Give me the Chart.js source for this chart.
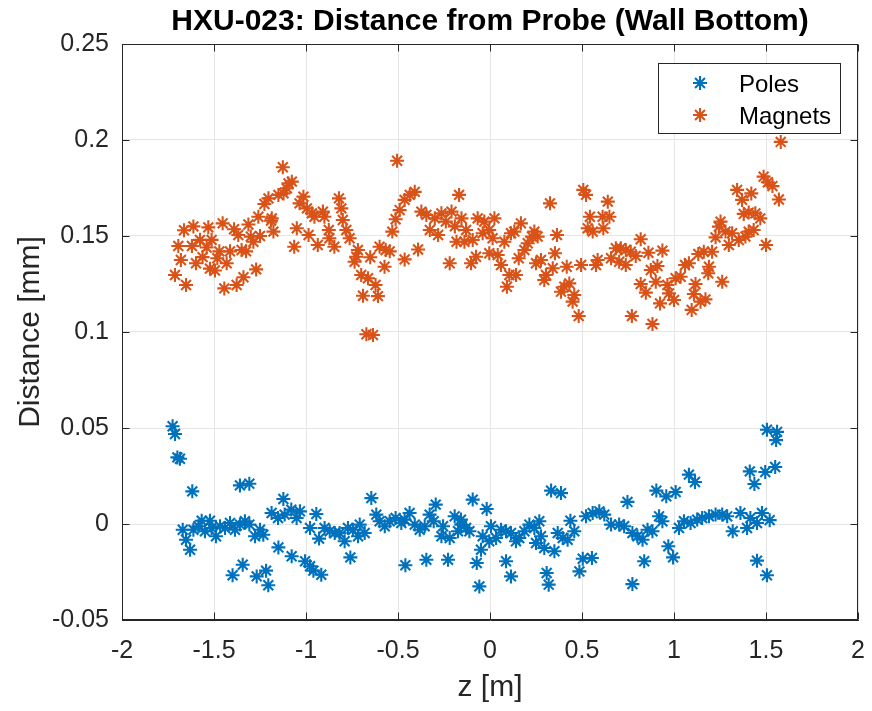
<!DOCTYPE html>
<html>
<head>
<meta charset="utf-8">
<script src="https://cdn.jsdelivr.net/npm/chart.js@4/dist/chart.umd.min.js"></script>
<style>
html,body{margin:0;padding:0;background:#fff;}
#wrap{width:872px;height:711px;}
</style>
</head>
<body>
<div id="wrap"><canvas id="c" width="872" height="711"></canvas></div>
<script>
const chartTitle = 'HXU-023: Distance from Probe (Wall Bottom)';
const xAxisTitle = 'z [m]';
const yAxisTitle = 'Distance [mm]';
const seriesNames = ['Poles', 'Magnets'];

const xTickValues = [-2, -1.5, -1, -0.5, 0, 0.5, 1, 1.5, 2];
const xTickLabels = ['-2', '-1.5', '-1', '-0.5', '0', '0.5', '1', '1.5', '2'];
const yTickValues = [-0.05, 0, 0.05, 0.1, 0.15, 0.2, 0.25];
const yTickLabels = ['-0.05', '0', '0.05', '0.1', '0.15', '0.2', '0.25'];

const poleZ = [
-1.725,-1.712,-1.699,-1.685,-1.618,-1.359,-1.308,-1.67,-1.652,-1.63,-1.612,-1.585,-1.567,-1.549,-1.522,-1.513,-1.489,-1.467,-1.44,-1.413,-1.386,-1.359,-1.332,-1.308,-1.277,-1.25,-1.232,-1.399,-1.344,-1.268,-1.217,-1.205,-1.123,-1.187,-1.152,-1.116,-1.08,-1.051,-1.033,-0.978,-1.15,-1.078,-1.005,-0.978,-0.96,
-0.944,-0.929,-0.917,-0.899,-0.871,-0.844,-0.817,-0.79,-0.772,-0.745,-0.717,-0.708,-0.681,-0.759,-0.645,-0.618,-0.6,-0.572,-0.545,-0.513,-0.482,-0.464,-0.437,-0.409,-0.382,-0.355,-0.328,-0.295,-0.306,-0.264,-0.255,-0.219,-0.192,-0.174,-0.156,-0.46,-0.346,-0.228,
-0.094,-0.018,-0.158,-0.13,-0.112,-0.04,0.005,-0.049,-0.072,-0.058,-0.004,0.033,0.06,0.087,0.114,0.141,0.159,0.187,0.214,0.241,0.268,0.25,0.277,0.295,0.35,0.332,0.386,0.087,0.114,0.308,0.319,0.368,0.395,0.422,0.437,0.458,0.486,0.504,0.554,0.522,0.558,0.594,0.621,0.658,
0.702,0.729,0.747,0.774,0.801,0.829,0.856,0.883,0.919,0.937,0.838,0.774,0.969,0.995,0.904,0.958,1.009,1.081,1.114,1.027,1.054,1.09,1.126,1.153,1.19,1.226,1.262,1.289,1.319,1.361,1.397,1.415,1.451,1.478,1.412,1.437,1.496,1.451,1.505,1.505,
1.56,1.555,1.55,1.52
];
const poleDist = [
0.0509,0.0469,0.0347,0.034,0.017,0.0201,0.021,-0.003,-0.0082,-0.0134,-0.003,-0.0012,0.0017,-0.0038,0.0017,-0.0021,-0.0064,-0.0012,-0.0021,0.0005,-0.003,-0.0003,0.0014,-0.0003,-0.0064,-0.003,-0.0056,-0.0267,-0.0212,-0.0273,-0.0243,-0.0319,0.013,0.0057,0.0031,0.0049,0.0075,0.0031,0.0066,-0.0021,-0.0122,-0.0168,-0.0194,-0.022,-0.0243,
0.0052,-0.0076,-0.0264,-0.0021,-0.0038,-0.0047,-0.0047,-0.009,-0.0021,-0.003,-0.0064,-0.0003,-0.0047,-0.0174,0.0135,0.0049,0.0014,-0.0012,0.0014,0.0031,0.0005,0.0023,0.0057,-0.0003,-0.003,-0.0012,0.0049,0.0101,0.0014,-0.0064,-0.0012,-0.0073,0.004,-0.0038,-0.0003,-0.0215,-0.0186,-0.0186,
0.0127,0.0078,0.0023,-0.0021,-0.0038,-0.0064,-0.0012,-0.0134,-0.0203,-0.0325,-0.009,-0.0073,-0.003,-0.0038,-0.0047,-0.009,-0.0073,-0.0038,-0.0003,-0.0021,0.0014,-0.0099,-0.0064,-0.0125,-0.0142,0.0174,0.0161,-0.0194,-0.0273,-0.0255,-0.0316,-0.0047,-0.0073,-0.0082,0.0017,-0.0038,-0.0247,-0.0181,-0.0177,0.004,0.0057,0.0066,0.0049,-0.0003,
-0.0003,-0.0012,0.0115,-0.0047,-0.0064,-0.0082,-0.003,-0.0038,0.004,0.0014,-0.0194,-0.0313,-0.0116,-0.0174,0.0174,0.0144,0.0167,0.0257,0.0219,-0.0021,0.0014,0.0005,0.0023,0.0031,0.004,0.0049,0.0049,0.004,-0.0038,0.0057,-0.0021,0.0031,0.0005,0.0057,0.0274,0.0208,0.0271,-0.0191,-0.0267,0.0491,
0.048,0.0437,0.0297,0.002
];

const magnetZ = [
-1.712,-1.652,-1.68,-1.694,-1.663,-1.612,-1.62,-1.576,-1.598,-1.562,-1.54,-1.531,-1.513,-1.522,-1.495,-1.471,-1.453,-1.482,-1.431,-1.413,-1.391,-1.368,-1.35,-1.326,-1.313,-1.30,-1.286,-1.259,-1.25,-1.271,-1.34,-1.377,-1.444,-1.226,-1.204,-1.186,-1.177,-1.19,-1.15,-1.122,-1.104,-1.095,-1.077,-1.126,-1.05,-1.064,-1.014,-1.035,-0.995,-0.986,-0.968,
-0.954,-0.908,-0.90,-0.936,-0.821,-0.808,-0.80,-0.876,-0.873,-0.846,-0.781,-0.763,-0.718,-0.736,-0.727,-0.651,-0.60,-0.567,-0.545,-0.573,-0.70,-0.663,-0.622,-0.69,-0.609,-0.672,-0.636,-0.505,-0.531,-0.513,-0.491,-0.464,-0.436,-0.409,-0.464,-0.391,-0.373,-0.346,-0.327,-0.30,-0.282,-0.264,-0.24,-0.209,-0.191,-0.219,-0.168,-0.182,-0.155,
-0.13,-0.139,-0.094,-0.103,-0.076,-0.067,-0.031,-0.04,-0.004,0.014,0.024,-0.004,0.042,0.06,0.078,0.105,0.141,0.092,0.114,0.132,0.168,0.156,0.187,0.205,0.228,0.241,0.259,0.25,0.277,0.295,0.304,0.341,0.326,0.364,0.353,0.417,0.386,0.404,0.431,0.458,0.449,0.482,0.495,0.507,0.522,0.543,0.531,0.558,0.576,0.585,0.612,0.616,0.64,0.649,0.658,
0.684,0.711,0.738,0.765,0.702,0.738,0.819,0.792,0.861,0.937,0.91,0.874,0.819,0.847,0.901,0.771,0.883,0.924,0.964,0.973,1.0,1.009,1.036,1.06,1.081,1.117,1.108,1.096,1.144,1.171,1.19,1.186,1.262,1.132,1.162,1.207,1.226,1.244,1.253,1.28,1.298,1.316,1.352,1.388,1.406,1.433,1.379,1.406,1.442,1.469,1.343,1.37,1.42,1.487,1.50,
1.51,1.535,1.57,1.58
];
const magnetDist = [
0.1297,0.1245,0.1375,0.1448,0.153,0.155,0.1448,0.148,0.1358,0.139,0.144,0.1545,0.148,0.133,0.132,0.142,0.1566,0.1384,0.1358,0.142,0.1535,0.1505,0.1427,0.142,0.156,0.1497,0.147,0.160,0.150,0.1326,0.1285,0.1245,0.1227,0.1667,0.1696,0.1592,0.1523,0.158,0.1714,0.1722,0.1748,0.1774,0.1783,0.1858,0.154,0.1444,0.1705,0.167,0.1644,0.1505,0.1618,
0.160,0.1627,0.160,0.1453,0.1696,0.1644,0.1583,0.1531,0.1488,0.1444,0.1531,0.1488,0.1427,0.1366,0.1392,0.1389,0.1444,0.1427,0.142,0.134,0.1297,0.1280,0.1245,0.1189,0.1187,0.0988,0.0984,0.1892,0.1523,0.1587,0.1635,0.1688,0.1714,0.173,0.1378,0.143,0.1627,0.161,0.1531,0.1592,0.1505,0.1618,0.1575,0.1627,0.155,0.1358,0.1714,0.147,0.1592,
0.1531,0.147,0.1479,0.1358,0.1392,0.1592,0.1575,0.1514,0.1531,0.1488,0.1592,0.141,0.1401,0.1349,0.147,0.1297,0.1297,0.1236,0.1514,0.1523,0.1566,0.1384,0.1427,0.1462,0.1497,0.1523,0.1497,0.1358,0.1375,0.1271,0.1297,0.1332,0.167,0.1505,0.141,0.134,0.121,0.1236,0.1253,0.1193,0.1158,0.1083,0.1349,0.174,0.1714,0.160,0.154,0.1523,0.1349,0.1375,0.160,0.154,0.1679,0.160,0.1384,
0.1436,0.1436,0.1427,0.1418,0.1366,0.1349,0.1483,0.1396,0.1413,0.1424,0.1344,0.1323,0.125,0.1205,0.1262,0.1083,0.1042,0.1149,0.1245,0.1201,0.1167,0.128,0.1288,0.1349,0.1358,0.125,0.1198,0.1115,0.1158,0.117,0.134,0.1306,0.1262,0.1406,0.1418,0.1418,0.1493,0.1549,0.1575,0.1523,0.1453,0.1514,0.1479,0.1497,0.1523,0.1531,0.1615,0.1622,0.1618,0.1592,0.174,0.1688,0.1722,0.1809,0.1453,
0.178,0.176,0.169,0.199
];

const COLORS = ['#0072BD', '#D95319'];
const FONT = '"Liberation Sans", Arial, Helvetica, sans-serif';
const AXIS_COLOR = '#262626';

function toPoints(xs, ys) { return xs.map((x, i) => ({x: x, y: ys[i]})); }

const MARKER_R = 7, MARKER_W = 2.1;

function drawAsterisk(ctx, x, y, r) {
  ctx.beginPath();
  for (let k = 0; k < 4; k++) {
    const a = k * Math.PI / 4;
    const dx = Math.cos(a) * r, dy = Math.sin(a) * r;
    ctx.moveTo(x - dx, y - dy);
    ctx.lineTo(x + dx, y + dy);
  }
  ctx.stroke();
}

const bgPlugin = {
  id: 'bg',
  beforeDraw(chart) {
    const ctx = chart.ctx;
    ctx.save();
    ctx.fillStyle = '#fff';
    ctx.fillRect(0, 0, chart.width, chart.height);
    ctx.restore();
  }
};

const framePlugin = {
  id: 'frame',
  afterDatasetsDraw(chart) {
    const {ctx, chartArea: a, scales} = chart;
    ctx.save();
    ctx.strokeStyle = AXIS_COLOR;
    ctx.lineWidth = 1;
    const L = Math.round(a.left) + 0.5, R = Math.round(a.right) - 0.5;
    const T = Math.round(a.top) + 0.5, B = Math.round(a.bottom) - 0.5;
    ctx.strokeRect(L, T, R - L, B - T);
    const tl = 7;
    ctx.beginPath();
    xTickValues.forEach(v => {
      const px = Math.round(scales.x.getPixelForValue(v)) + 0.5;
      ctx.moveTo(px, B); ctx.lineTo(px, B - tl);
      ctx.moveTo(px, T); ctx.lineTo(px, T + tl);
    });
    yTickValues.forEach(v => {
      const py = Math.round(scales.y.getPixelForValue(v)) + 0.5;
      ctx.moveTo(L, py); ctx.lineTo(L + tl, py);
      ctx.moveTo(R, py); ctx.lineTo(R - tl, py);
    });
    ctx.stroke();
    ctx.restore();
  }
};

const legendPlugin = {
  id: 'boxLegend',
  afterDraw(chart) {
    const ctx = chart.ctx;
    ctx.save();
    const bx = 658.5, by = 63.5, bw = 182, bh = 70;
    ctx.fillStyle = '#fff';
    ctx.fillRect(bx, by, bw, bh);
    ctx.strokeStyle = AXIS_COLOR;
    ctx.lineWidth = 1;
    ctx.strokeRect(bx, by, bw, bh);
    const rows = [83, 115];
    ctx.font = '24px ' + FONT;
    ctx.textBaseline = 'middle';
    ctx.textAlign = 'left';
    rows.forEach((ry, i) => {
      ctx.strokeStyle = COLORS[i];
      ctx.lineWidth = MARKER_W;
      drawAsterisk(ctx, 700, ry, MARKER_R);
      ctx.fillStyle = '#000';
      ctx.fillText(seriesNames[i], 739, ry + 2);
    });
    ctx.restore();
  }
};

new Chart(document.getElementById('c'), {
  type: 'scatter',
  data: {
    datasets: [
      {
        label: seriesNames[0],
        data: toPoints(poleZ, poleDist),
        pointStyle: 'star',
        pointRadius: MARKER_R,
        pointBorderWidth: MARKER_W,
        borderColor: COLORS[0],
        backgroundColor: COLORS[0]
      },
      {
        label: seriesNames[1],
        data: toPoints(magnetZ, magnetDist),
        pointStyle: 'star',
        pointRadius: MARKER_R,
        pointBorderWidth: MARKER_W,
        borderColor: COLORS[1],
        backgroundColor: COLORS[1]
      }
    ]
  },
  options: {
    responsive: false,
    devicePixelRatio: 1,
    animation: false,
    events: [],
    layout: {padding: {left: 0, right: 14, top: 0, bottom: 0}},
    plugins: {
      legend: {display: false},
      tooltip: {enabled: false},
      title: {
        display: true,
        fullSize: false,
        text: chartTitle,
        color: '#000',
        font: {family: FONT, size: 30, weight: 'bold'},
        padding: {top: 4, bottom: 4}
      }
    },
    scales: {
      x: {
        type: 'linear',
        min: -2, max: 2,
        afterBuildTicks: s => { s.ticks = xTickValues.map(v => ({value: v})); },
        afterFit: s => { s.height = 91; s.paddingLeft = 0; s.paddingRight = 0; },
        ticks: {
          callback: (v, i) => xTickLabels[i],
          color: AXIS_COLOR,
          font: {family: FONT, size: 25},
          padding: 16,
          maxRotation: 0,
          autoSkip: false
        },
        grid: {color: '#e5e5e5', drawTicks: false},
        border: {display: true, color: AXIS_COLOR},
        title: {
          display: true,
          text: xAxisTitle,
          color: AXIS_COLOR,
          font: {family: FONT, size: 30},
          padding: {top: 0, bottom: 5}
        }
      },
      y: {
        type: 'linear',
        min: -0.05, max: 0.25,
        afterBuildTicks: s => { s.ticks = yTickValues.map(v => ({value: v})); },
        afterFit: s => { s.width = 122; s.paddingTop = 0; s.paddingBottom = 0; },
        ticks: {
          callback: (v, i) => yTickLabels[i],
          color: AXIS_COLOR,
          font: {family: FONT, size: 25},
          padding: 13,
          autoSkip: false
        },
        grid: {color: '#e5e5e5', drawTicks: false},
        border: {display: true, color: AXIS_COLOR},
        title: {
          display: true,
          text: yAxisTitle,
          color: AXIS_COLOR,
          font: {family: FONT, size: 30},
          padding: {top: 13, bottom: 0}
        }
      }
    }
  },
  plugins: [bgPlugin, framePlugin, legendPlugin]
});
</script>
</body>
</html>
